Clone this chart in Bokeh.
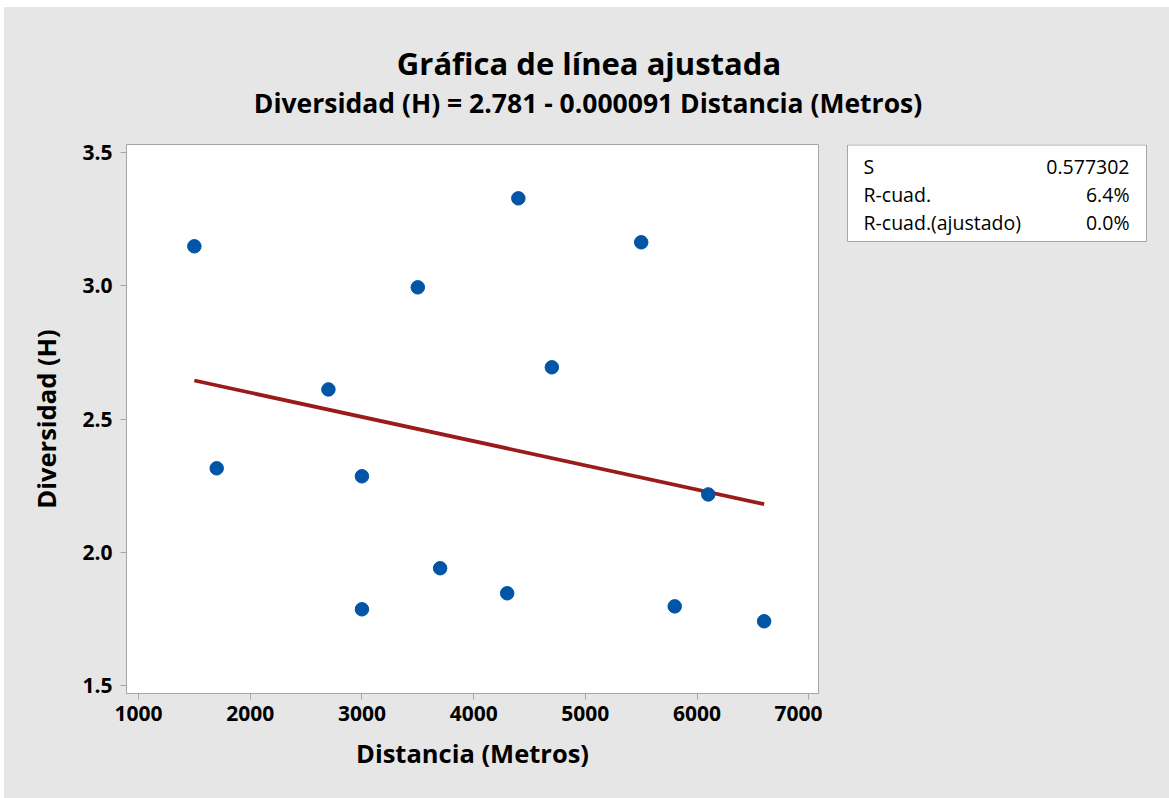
from bokeh.plotting import figure
from bokeh.models import Range1d, FixedTicker, NumeralTickFormatter
from bokeh.layouts import column, row
from bokeh.core.properties import value
from bokeh.embed import file_html
from bokeh.resources import INLINE

# ---- data ----
distancia = [1500, 1700, 2700, 3000, 3000, 3500, 3700, 4300, 4400, 4700, 5500, 5800, 6100, 6600]
diversidad = [3.148, 2.315, 2.611, 2.285, 1.786, 2.994, 1.940, 1.846, 3.328, 2.694, 3.163, 1.797, 2.217, 1.741]
intercept = 2.781
slope = -0.000091
x_ticks = [1000, 2000, 3000, 4000, 5000, 6000, 7000]
y_ticks = [1.5, 2.0, 2.5, 3.0, 3.5]
title = "Gráfica de línea ajustada"
subtitle = "Diversidad (H) = 2.781 - 0.000091 Distancia (Metros)"
x_label = "Distancia (Metros)"
y_label = "Diversidad (H)"
stat_names = ["S", "R-cuad.", "R-cuad.(ajustado)"]
stat_values = ["0.577302", "6.4%", "0.0%"]

FONT = "Open Sans"
BG = "#e6e6e6"
FRAME = "#a6a6a6"


def blank(width, height, yspan):
    f = figure(width=width, height=height, output_backend="svg", toolbar_location=None,
               x_range=Range1d(0, width), y_range=Range1d(yspan, 0),
               x_axis_location=None, y_axis_location=None,
               min_border=0, min_border_left=0, min_border_right=0,
               min_border_top=0, min_border_bottom=0)
    f.grid.visible = False
    f.outline_line_color = None
    f.background_fill_color = BG
    f.border_fill_color = BG
    return f


# ---- header with titles ----
head = blank(1165, 130, 130)
head.text(x=[584.5], y=[55], text=[title], text_font=value(FONT), text_font_style="bold",
          text_font_size="31px", text_align="center", text_baseline="middle", text_color="black")
head.text(x=[583.5], y=[95], text=[subtitle], text_font=value(FONT), text_font_style="bold",
          text_font_size="26.5px", text_align="center", text_baseline="middle", text_color="black")

# ---- main plot ----
p = figure(width=818, height=661, output_backend="svg", toolbar_location=None,
           x_range=Range1d(892.6, 7086.8), y_range=Range1d(1.47, 3.53),
           min_border_left=122, min_border_right=4, min_border_top=7, min_border_bottom=105)
p.border_fill_color = BG
p.background_fill_color = "white"
p.outline_line_color = FRAME
p.grid.visible = False

for ax in (p.xaxis[0], p.yaxis[0]):
    ax.axis_line_color = FRAME
    ax.major_tick_line_color = FRAME
    ax.minor_tick_line_color = None
    ax.major_tick_out = 6
    ax.major_tick_in = 0
    ax.major_label_text_font = FONT
    ax.major_label_text_font_style = "bold"
    ax.major_label_text_font_size = "21px"
    ax.major_label_text_color = "black"
    ax.axis_label_text_font = FONT
    ax.axis_label_text_font_style = "bold"
    ax.axis_label_text_font_size = "25.5px"
    ax.axis_label_text_color = "black"
p.xaxis.major_label_standoff = 6
p.yaxis.major_label_standoff = 8
p.xaxis.axis_label_standoff = 12
p.yaxis.axis_label_standoff = 16

p.xaxis.ticker = FixedTicker(ticks=x_ticks)
p.yaxis.ticker = FixedTicker(ticks=y_ticks)
p.yaxis.formatter = NumeralTickFormatter(format="0.0")
p.xaxis.axis_label = x_label
p.yaxis.axis_label = y_label

# fitted line from the regression equation
x_fit = [min(distancia), max(distancia)]
y_fit = [intercept + slope * v for v in x_fit]
p.line(x_fit, y_fit, line_color="#9b1b1b", line_width=3.8)

p.scatter(distancia, diversidad, size=13.5, fill_color="#0055a6", line_color="#0055a6")

# ---- stats table (its frame is aligned with the main plot frame: 549 px tall) ----
tab = blank(347, 661, 549)
tab.quad(left=[25], right=[324], top=[0.5], bottom=[97], fill_color="white",
         line_color=FRAME, line_width=1)
row_y = [22, 50, 78]
tab.text(x=[41] * 3, y=row_y, text=stat_names, text_font=value(FONT), text_font_size="19.5px",
         text_align="left", text_baseline="middle", text_color="black")
tab.text(x=[307] * 3, y=row_y, text=stat_values, text_font=value(FONT), text_font_size="19.5px",
         text_align="right", text_baseline="middle", text_color="black")

layout = column(head, row(p, tab, spacing=0), spacing=0)
layout.margin = (7, 0, 0, 4)
layout.background = BG

open("out.html", "w").write(file_html(layout, INLINE))
